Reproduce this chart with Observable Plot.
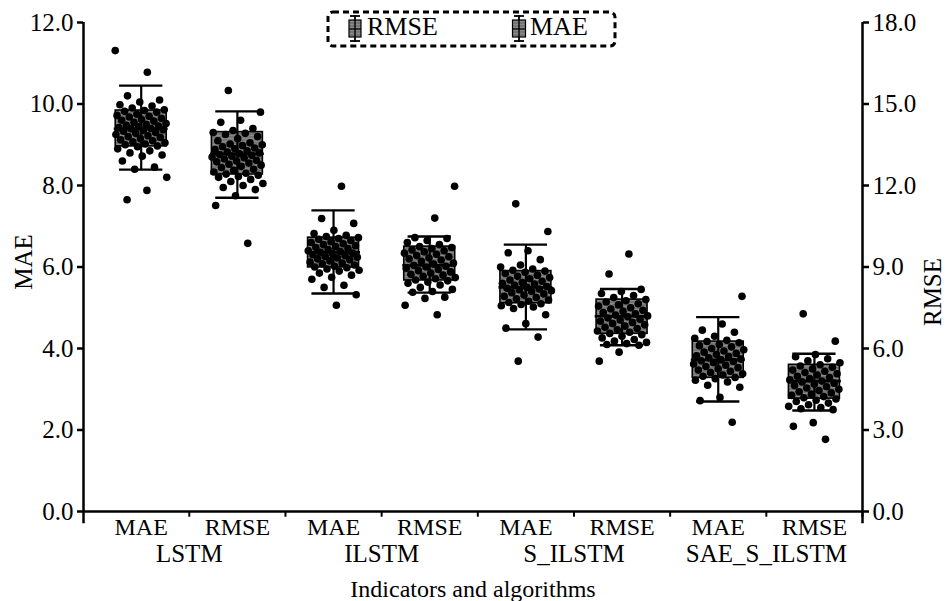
<!DOCTYPE html>
<html>
<head>
<meta charset="utf-8">
<script src="https://cdn.jsdelivr.net/npm/d3@7"></script>
<script src="https://cdn.jsdelivr.net/npm/@observablehq/plot@0.6"></script>
<style>
  html, body { margin: 0; padding: 0; background: #fff; }
  #chart { position: relative; width: 949px; height: 601px; }
  #chart svg, #chart svg text { font-family: "Liberation Serif", "Times New Roman", "DejaVu Serif", serif !important; }
</style>
</head>
<body>
<div id="chart"></div>
<script>
// Categories (x axis)
const indicators = ["MAE", "RMSE", "MAE", "RMSE", "MAE", "RMSE", "MAE", "RMSE"];
const algorithms = ["LSTM", "ILSTM", "S_ILSTM", "SAE_S_ILSTM"];

// Tick values (left axis, MAE); right axis shows RMSE = MAE-axis value * 1.5
const yTicks = [0, 2, 4, 6, 8, 10, 12];
const rmsePerMaeUnit = 18 / 12;

// Box statistics, as plotted against the left axis
const q1     = [8.96, 8.27, 5.99, 5.67, 5.11, 4.36, 3.28, 2.77];
const median = [9.39, 8.78, 6.36, 6.04, 5.50, 4.79, 3.72, 3.20];
const q3     = [9.84, 9.31, 6.72, 6.50, 5.90, 5.20, 4.17, 3.60];
const whiskLo = [8.39, 7.70, 5.35, 5.37, 4.47, 4.08, 2.70, 2.48];
const whiskHi = [10.45, 9.82, 7.39, 6.75, 6.55, 5.46, 4.77, 3.87];

// Individual observations per group, as plotted against the left axis
const lstmMae = [11.31, 10.78, 10.2, 10.1, 10.05, 9.98, 9.95, 9.9, 9.86, 9.84, 9.82, 9.8, 9.75, 9.72, 9.7, 9.68, 9.65, 9.62, 9.6, 9.58, 9.55, 9.52, 9.5, 9.48, 9.46, 9.44, 9.42, 9.4, 9.39, 9.37, 9.35, 9.33, 9.3, 9.28, 9.25, 9.22, 9.2, 9.18, 9.15, 9.12, 9.1, 9.07, 9.05, 9.02, 9.0, 8.97, 8.95, 8.9, 8.85, 8.8, 8.75, 8.72, 8.6, 8.45, 8.4, 8.2, 7.88, 7.65];
const lstmRmse = [10.33, 9.8, 9.6, 9.55, 9.4, 9.35, 9.3, 9.28, 9.25, 9.2, 9.15, 9.1, 9.05, 9.02, 9.0, 8.98, 8.95, 8.92, 8.9, 8.88, 8.85, 8.82, 8.8, 8.78, 8.76, 8.74, 8.72, 8.7, 8.68, 8.65, 8.62, 8.6, 8.58, 8.55, 8.52, 8.5, 8.47, 8.44, 8.4, 8.37, 8.33, 8.3, 8.28, 8.25, 8.22, 8.2, 8.15, 8.1, 8.05, 8.0, 7.95, 7.9, 7.75, 7.51, 6.58];
const ilstmMae = [7.98, 7.19, 7.07, 6.9, 6.82, 6.78, 6.75, 6.72, 6.7, 6.68, 6.65, 6.62, 6.6, 6.57, 6.55, 6.52, 6.5, 6.48, 6.45, 6.43, 6.4, 6.38, 6.36, 6.34, 6.32, 6.3, 6.28, 6.26, 6.24, 6.22, 6.2, 6.18, 6.15, 6.12, 6.1, 6.08, 6.05, 6.02, 6.0, 5.98, 5.95, 5.92, 5.9, 5.85, 5.8, 5.75, 5.7, 5.55, 5.5, 5.32, 5.06];
const ilstmRmse = [7.98, 7.2, 6.72, 6.7, 6.65, 6.6, 6.55, 6.5, 6.48, 6.45, 6.42, 6.4, 6.37, 6.34, 6.31, 6.28, 6.25, 6.22, 6.2, 6.17, 6.14, 6.1, 6.07, 6.04, 6.02, 6.0, 5.97, 5.94, 5.91, 5.88, 5.85, 5.82, 5.8, 5.77, 5.74, 5.71, 5.68, 5.66, 5.63, 5.6, 5.56, 5.5, 5.45, 5.4, 5.38, 5.26, 5.23, 5.06, 4.83];
const silstmMae = [7.55, 6.87, 6.4, 6.35, 6.18, 6.05, 6.0, 5.95, 5.92, 5.9, 5.87, 5.84, 5.8, 5.77, 5.74, 5.71, 5.68, 5.65, 5.62, 5.6, 5.58, 5.55, 5.52, 5.5, 5.48, 5.46, 5.44, 5.42, 5.4, 5.37, 5.34, 5.31, 5.28, 5.25, 5.22, 5.19, 5.16, 5.13, 5.1, 5.08, 5.05, 5.02, 4.98, 4.83, 4.61, 4.5, 4.28, 3.69];
const silstmRmse = [6.32, 5.83, 5.45, 5.4, 5.35, 5.3, 5.25, 5.2, 5.17, 5.14, 5.1, 5.07, 5.04, 5.0, 4.97, 4.94, 4.91, 4.88, 4.85, 4.82, 4.8, 4.78, 4.75, 4.72, 4.7, 4.67, 4.64, 4.61, 4.58, 4.55, 4.52, 4.49, 4.46, 4.43, 4.4, 4.37, 4.34, 4.3, 4.26, 4.22, 4.18, 4.15, 4.12, 4.1, 4.08, 3.91, 3.69];
const saeMae = [5.28, 4.6, 4.45, 4.4, 4.3, 4.25, 4.2, 4.17, 4.14, 4.1, 4.07, 4.04, 4.0, 3.97, 3.94, 3.91, 3.88, 3.85, 3.82, 3.8, 3.77, 3.74, 3.72, 3.7, 3.68, 3.65, 3.62, 3.59, 3.56, 3.53, 3.5, 3.47, 3.44, 3.41, 3.38, 3.35, 3.32, 3.29, 3.26, 3.22, 3.18, 3.1, 3.05, 2.8, 2.72, 2.19];
const saeRmse = [4.85, 4.18, 3.85, 3.8, 3.75, 3.7, 3.65, 3.6, 3.57, 3.54, 3.5, 3.47, 3.44, 3.41, 3.38, 3.35, 3.32, 3.29, 3.26, 3.23, 3.2, 3.18, 3.15, 3.12, 3.09, 3.06, 3.03, 3.0, 2.97, 2.94, 2.91, 2.88, 2.85, 2.82, 2.79, 2.76, 2.73, 2.7, 2.66, 2.62, 2.58, 2.55, 2.52, 2.5, 2.18, 2.09, 1.77];

const groups = [lstmMae, lstmRmse, ilstmMae, ilstmRmse, silstmMae, silstmRmse, saeMae, saeRmse];

// Build tables for Plot
const stats = indicators.map((ind, i) => ({
  i, ind, q1: q1[i], med: median[i], q3: q3[i], lo: whiskLo[i], hi: whiskHi[i]
}));
const points = [];
groups.forEach((vals, g) => {
  vals.forEach((v, k) => {
    // deterministic spread (golden-ratio sequence) for the strip jitter
    const j = (((k + g * 7) * 0.6180339887) % 1) - 0.5;
    points.push({ g, v, pos: g + j * 0.54 });
  });
});
const boundaries = d3.range(0.5, 7.5, 1).concat([7.5]);
const algoLabels = algorithms.map((a, k) => ({ a, pos: 2 * k + 0.5 }));

const FONT = "'Liberation Serif', 'Times New Roman', 'DejaVu Serif', serif";
const XMIN = -0.6, XMAX = 7.5;

const plot = Plot.plot({
  width: 949,
  height: 601,
  marginTop: 22,
  marginBottom: 90,
  marginLeft: 83,
  marginRight: 87,
  style: { fontFamily: FONT, fontSize: "24px", color: "#000", background: "#fff", overflow: "visible" },
  x: { type: "linear", domain: [XMIN, XMAX], axis: null },
  y: { domain: [0, 12], axis: null },
  marks: [
    // Axes
    Plot.axisY({ anchor: "left", ticks: yTicks, tickFormat: d => d.toFixed(1), tickSize: 6, tickPadding: 4, strokeWidth: 2.5, fontSize: 25, label: null }),
    Plot.axisY({ anchor: "right", ticks: yTicks, tickFormat: d => (d * rmsePerMaeUnit).toFixed(1), tickSize: 6, tickPadding: 4, strokeWidth: 2.5, fontSize: 25, label: null }),
    Plot.ruleX([XMIN, XMAX], { y1: -0.3, y2: 12, stroke: "#000", strokeWidth: 2.5 }),
    Plot.ruleY([0], { x1: XMIN, x2: XMAX, stroke: "#000", strokeWidth: 2.5 }),
    Plot.ruleX(boundaries, { y1: 0, y2: -0.14, stroke: "#000", strokeWidth: 2 }),
    // Category labels
    Plot.text(stats, { x: "i", y: 0, text: "ind", dy: 16, lineAnchor: "middle", fontSize: 24 }),
    Plot.text(algoLabels, { x: "pos", y: 0, text: "a", dy: 42, lineAnchor: "middle", fontSize: 25 }),
    Plot.text(["Indicators and algorithms"], { x: (XMIN + XMAX) / 2, y: 0, dy: 78, lineAnchor: "middle", fontSize: 24 }),
    // Boxes
    Plot.rect(stats, { x1: d => d.i - 0.265, x2: d => d.i + 0.265, y1: "q1", y2: "q3", fill: "url(#boxStripes)", stroke: "#000", strokeWidth: 1.6 }),
    Plot.ruleX(stats, { x: "i", y1: "lo", y2: "hi", stroke: "#000", strokeWidth: 2.2 }),
    Plot.ruleY(stats, { y: "hi", x1: d => d.i - 0.225, x2: d => d.i + 0.225, stroke: "#000", strokeWidth: 2.4 }),
    Plot.ruleY(stats, { y: "lo", x1: d => d.i - 0.225, x2: d => d.i + 0.225, stroke: "#000", strokeWidth: 2.4 }),
    Plot.ruleY(stats, { y: "med", x1: d => d.i - 0.28, x2: d => d.i + 0.28, stroke: "#000", strokeWidth: 2.6 }),
    // Observations
    Plot.dot(points, { x: "pos", y: "v", r: 3.8, fill: "#000", stroke: "none" })
  ]
});

const svg = d3.select(plot);
// stripe pattern for the boxes
const defs = svg.insert("defs", ":first-child");
const pat = defs.append("pattern").attr("id", "boxStripes").attr("patternUnits", "userSpaceOnUse")
  .attr("width", 8).attr("height", 3);
pat.append("rect").attr("width", 8).attr("height", 3).attr("fill", "#767676");
pat.append("rect").attr("y", 0).attr("width", 8).attr("height", 1).attr("fill", "#8a8a8a");

// Axis titles
svg.append("text").attr("transform", "translate(26,262) rotate(-90)")
  .attr("text-anchor", "middle").attr("dominant-baseline", "middle")
  .attr("font-family", FONT).attr("font-size", 25).text("MAE");
svg.append("text").attr("transform", "translate(935,292) rotate(-90)")
  .attr("text-anchor", "middle").attr("dominant-baseline", "middle")
  .attr("font-family", FONT).attr("font-size", 25).text("RMSE");

// Legend
const lg = svg.append("g").attr("font-family", FONT).attr("font-size", 26).attr("text-anchor", "start");
lg.append("rect").attr("x", 328).attr("y", 12).attr("width", 287).attr("height", 34).attr("rx", 5)
  .attr("fill", "none").attr("stroke", "#000").attr("stroke-width", 3).attr("stroke-dasharray", "6 4");
function icon(cx, w) {
  const g = lg.append("g");
  g.append("line").attr("x1", cx).attr("x2", cx).attr("y1", 15).attr("y2", 42).attr("stroke", "#000").attr("stroke-width", 1.8);
  g.append("line").attr("x1", cx - 5).attr("x2", cx + 5).attr("y1", 16).attr("y2", 16).attr("stroke", "#000").attr("stroke-width", 1.8);
  g.append("line").attr("x1", cx - 5).attr("x2", cx + 5).attr("y1", 41).attr("y2", 41).attr("stroke", "#000").attr("stroke-width", 1.8);
  g.append("rect").attr("x", cx - w / 2).attr("y", 20).attr("width", w).attr("height", 17)
    .attr("fill", "url(#boxStripes)").attr("stroke", "#000").attr("stroke-width", 1.2);
  g.append("line").attr("x1", cx - w / 2).attr("x2", cx + w / 2).attr("y1", 29).attr("y2", 29).attr("stroke", "#000").attr("stroke-width", 1.2);
  g.append("line").attr("x1", cx).attr("x2", cx).attr("y1", 20).attr("y2", 37).attr("stroke", "#000").attr("stroke-width", 1.4);
}
icon(355, 12);
lg.append("text").attr("x", 367).attr("y", 29).attr("text-anchor", "start").attr("dominant-baseline", "middle").text("RMSE");
icon(519, 13);
lg.append("text").attr("x", 530).attr("y", 29).attr("text-anchor", "start").attr("dominant-baseline", "middle").text("MAE");

document.getElementById("chart").appendChild(plot);
</script>
</body>
</html>
